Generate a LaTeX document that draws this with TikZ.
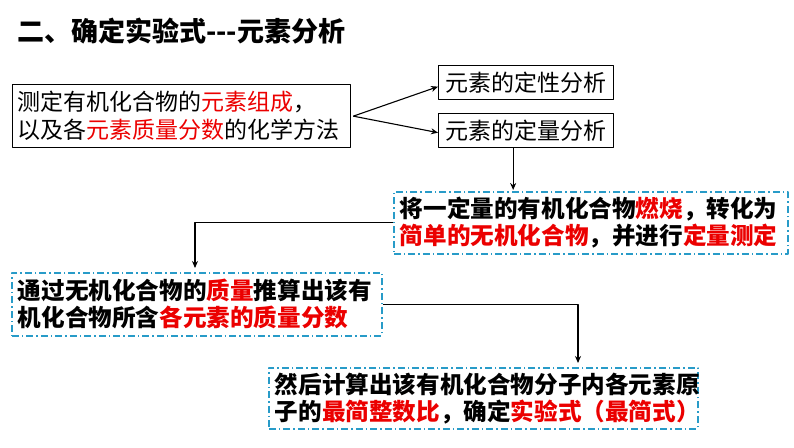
\documentclass[tikz,border=0pt]{standalone}
\usepackage{fontspec}
\setmainfont{Noto Sans CJK SC}
\usetikzlibrary{arrows.meta}
\definecolor{boxblue}{RGB}{40,155,200}
\definecolor{keyred}{RGB}{235,0,0}
\newcommand{\hl}[1]{\textcolor{keyred}{#1}}
\begin{document}
\begin{tikzpicture}[x=1pt, y=-1pt, line join=round, >={Stealth[length=7pt,width=6pt]},
  plainbox/.style={draw, line width=1.3pt, inner xsep=5pt, inner ysep=0pt, anchor=north west,
    font=\fontsize{23}{28}\selectfont},
  dashbox/.style={draw=boxblue, line width=1.6pt, dash pattern=on 7pt off 3pt on 1.5pt off 3pt,
    inner xsep=6pt, inner ysep=0pt, anchor=north west, align=left,
    font=\fontsize{23.6}{27}\selectfont\bfseries},
  link/.style={->, line width=1.1pt}]
  \useasboundingbox (0,0) rectangle (794,447);
  % title
  \node[anchor=west, inner sep=0pt, font=\fontsize{27}{27}\selectfont\bfseries] (title) at (17,31)
    {二、确定实验式-{}-{}-元素分析};
  % upper boxes
  \node[plainbox, text width=328pt, minimum height=63pt, align=left] (method) at (12,84)
    {测定有机化合物的\hl{元素组成}，\\以及各\hl{元素质量分数}的化学方法};
  \node[plainbox, minimum width=175pt, minimum height=34pt, align=center] (qual) at (438,65)
    {元素的定性分析};
  \node[plainbox, minimum width=175pt, minimum height=34pt, align=center] (quant) at (438,113)
    {元素的定量分析};
  % dashed steps
  \node[dashbox, text width=382pt, minimum height=62pt] (burn) at (393,191)
    {将一定量的有机化合物\hl{燃烧}，转化为\\\hl{简单的无机化合物}，并进行\hl{定量测定}};
  \node[dashbox, text width=358pt, minimum height=63pt] (mass) at (11,272)
    {通过无机化合物的\hl{质量}推算出该有\\机化合物所含\hl{各元素的质量分数}};
  \node[dashbox, text width=417pt, minimum height=61pt] (ratio) at (268,367)
    {然后计算出该有机化合物分子内各元素原\\子的\hl{最简整数比}，确定\hl{实验式（最简式）}};
  % connectors
  \coordinate (leftturn) at (195,0);
  \coordinate (rightturn) at (578,0);
  \draw[link] ([xshift=2pt]method.east) -- ([yshift=-4pt]qual.west);
  \draw[link] ([xshift=2pt]method.east) -- ([yshift=-2pt]quant.west);
  \draw[link, shorten >=1pt] ([xshift=-13pt]quant.south) -- ([xshift=-13pt]quant.south |- burn.north);
  \draw[link, shorten >=4pt] (burn.west) -| (leftturn |- mass.north);
  \draw[link, shorten >=4pt] (mass.east) -| (rightturn |- ratio.north);
\end{tikzpicture}
\end{document}
